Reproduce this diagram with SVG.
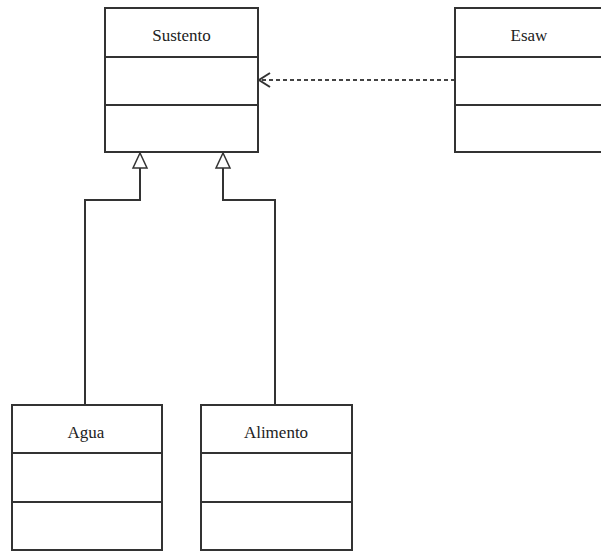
<svg xmlns="http://www.w3.org/2000/svg" width="601" height="551" viewBox="0 0 601 551">
<style>
.box{fill:#fff;stroke:#333;stroke-width:2}
.div{stroke:#333;stroke-width:2}
.lbl{font-family:"Liberation Serif","Times New Roman",serif;font-size:17px;fill:#222;text-anchor:middle}
.edge{fill:none;stroke:#333;stroke-width:2}
.dash{fill:none;stroke:#444;stroke-width:2;stroke-dasharray:4 3}
.tri{fill:#fff;stroke:#333;stroke-width:1.5}
</style>
<rect width="601" height="551" fill="#fff"/>
<g id="connectors">
<polyline class="edge" points="85,405 85,200 140,200 140,168"/>
<polyline class="edge" points="275,405 275,200 223,200 223,168"/>
<polygon class="tri" points="140,153 133,168 147,168"/>
<polygon class="tri" points="223,153 216,168 230,168"/>
<line class="dash" x1="455" y1="80" x2="260" y2="80"/>
<polyline class="edge" points="270,73 259,80 270,87" stroke-width="1.5"/>
</g>
<g id="Sustento">
<rect class="box" x="105" y="8" width="153" height="144"/>
<line class="div" x1="105" y1="57" x2="258" y2="57"/>
<line class="div" x1="105" y1="105" x2="258" y2="105"/>
<text class="lbl" x="181.5" y="41">Sustento</text>
</g>
<g id="Esaw">
<rect class="box" x="455" y="8" width="150" height="144"/>
<line class="div" x1="455" y1="57" x2="605" y2="57"/>
<line class="div" x1="455" y1="105" x2="605" y2="105"/>
<text class="lbl" x="529" y="41">Esaw</text>
</g>
<g id="Agua">
<rect class="box" x="12" y="405" width="150" height="145"/>
<line class="div" x1="12" y1="453" x2="162" y2="453"/>
<line class="div" x1="12" y1="502" x2="162" y2="502"/>
<text class="lbl" x="86" y="438">Agua</text>
</g>
<g id="Alimento">
<rect class="box" x="201" y="405" width="151" height="145"/>
<line class="div" x1="201" y1="453" x2="352" y2="453"/>
<line class="div" x1="201" y1="502" x2="352" y2="502"/>
<text class="lbl" x="276" y="438">Alimento</text>
</g>
</svg>
